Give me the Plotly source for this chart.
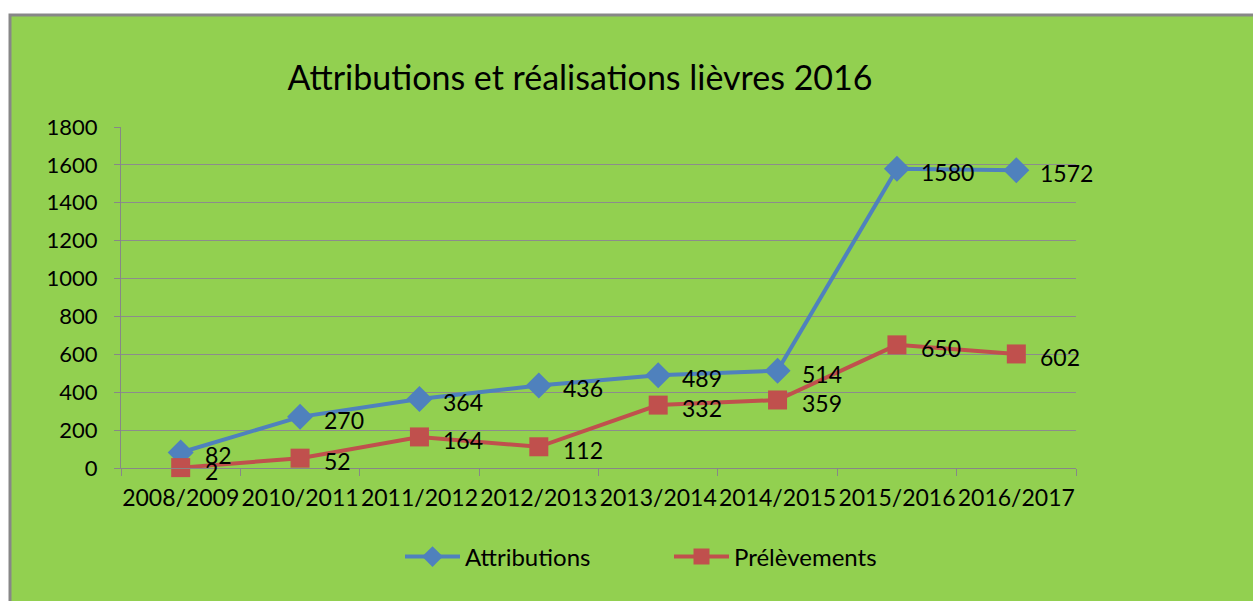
import plotly.graph_objects as go

categories = ["2008/2009", "2010/2011", "2011/2012", "2012/2013", "2013/2014", "2014/2015", "2015/2016", "2016/2017"]
attributions = [82, 270, 364, 436, 489, 514, 1580, 1572]
prelevements = [2, 52, 164, 112, 332, 359, 650, 602]

FONT = "Lato, 'Open Sans', sans-serif"
W, H = 1253, 601
L, R, T, B = 121, 1076, 127, 468

def px_x(p):
    return (p - L) / (R - L)

def px_y(p):
    return (B - p) / (B - T)

fig = go.Figure()
fig.add_trace(go.Scatter(
    x=categories, y=attributions, name="Attributions", mode="lines+markers",
    line=dict(color="#4F81BD", width=4),
    marker=dict(symbol="diamond", size=20, color="#4F81BD"),
    cliponaxis=False,
))
fig.add_trace(go.Scatter(
    x=categories, y=prelevements, name="Prélèvements", mode="lines+markers",
    line=dict(color="#C0504D", width=4),
    marker=dict(symbol="square", size=19, color="#C0504D"),
    cliponaxis=False,
))

for series in (attributions, prelevements):
    for c, v in zip(categories, series):
        fig.add_annotation(x=c, y=v, text=str(v), showarrow=False, xanchor="left", yanchor="middle",
                           xshift=22, yshift=-3, font=dict(family=FONT, size=23, color="#000000"))

fig.add_shape(type="rect", xref="paper", yref="paper",
              x0=px_x(10), x1=px_x(1270), y0=px_y(620), y1=px_y(15),
              fillcolor="#92D050", line=dict(color="#878787", width=3), layer="below")

fig.update_layout(
    width=W, height=H,
    margin=dict(l=L, r=W - R, t=T, b=H - B, pad=0),
    paper_bgcolor="#FFFFFF", plot_bgcolor="#D8E4BC",
    font=dict(family=FONT, color="#000000"),
    title=dict(text="Attributions et réalisations lièvres 2016", x=px_x(580), xref="paper", xanchor="center",
               y=1 - 78 / H, yref="container", yanchor="middle",
               font=dict(family=FONT, size=34, color="#000000")),
    showlegend=True,
    legend=dict(orientation="h", x=px_x(400), xanchor="left", y=px_y(557), yanchor="middle",
                font=dict(family=FONT, size=24, color="#000000"),
                bgcolor="rgba(0,0,0,0)", entrywidth=199, entrywidthmode="pixels", itemwidth=55),
    xaxis=dict(type="category", tickson="boundaries", ticks="outside", ticklen=7, tickcolor="#878787",
               showline=True, linecolor="#878787", linewidth=1, showgrid=False, tickangle=0,
               tickfont=dict(family=FONT, size=23, color="#000000"), ticklabelstandoff=9,
               range=[-0.5, 7.5]),
    yaxis=dict(range=[0, 1800], dtick=200, ticks="outside", ticklen=6, tickcolor="#878787",
               showline=True, linecolor="#878787", linewidth=1, showgrid=True, gridcolor="#8C8C8C",
               gridwidth=1, zeroline=False,
               tickfont=dict(family=FONT, size=22, color="#000000"), ticklabelstandoff=12),
)

fig.write_html("out.html", config={"displayModeBar": False},
               post_script="document.body.style.margin='0';")
